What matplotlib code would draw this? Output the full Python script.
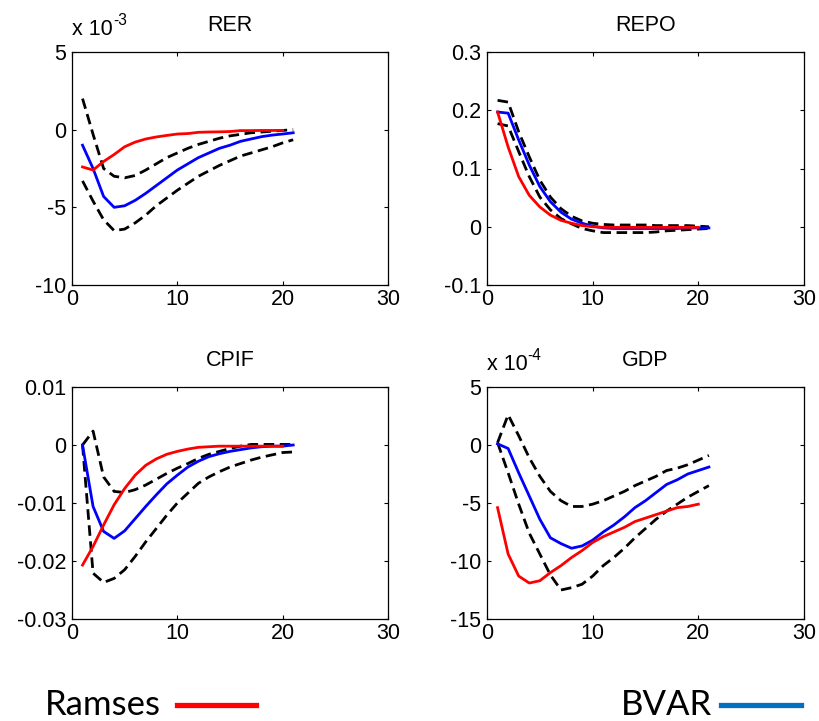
import matplotlib
matplotlib.use('Agg')
import matplotlib.pyplot as plt

plt.rcParams['font.family'] = ['Liberation Sans', 'DejaVu Sans']

# horizons
h_bvar = list(range(1, 22))
h_ramses = list(range(1, 21))

# RER (x 1e-3)
rer_up = [2.0, -0.3, -2.5, -3.0, -3.1, -2.95, -2.6, -2.2, -1.8, -1.5, -1.2, -0.95, -0.75, -0.55, -0.4, -0.3, -0.2, -0.15, -0.1, -0.05, 0.0]
rer_lo = [-3.3, -4.6, -5.8, -6.5, -6.4, -6.0, -5.5, -4.9, -4.4, -3.9, -3.45, -3.0, -2.65, -2.3, -2.0, -1.7, -1.5, -1.3, -1.1, -0.85, -0.65]
rer_bvar = [-1.0, -2.5, -4.3, -5.0, -4.9, -4.55, -4.1, -3.6, -3.1, -2.6, -2.2, -1.8, -1.5, -1.2, -1.0, -0.75, -0.6, -0.45, -0.35, -0.28, -0.2]
rer_ramses = [-2.4, -2.6, -2.05, -1.6, -1.1, -0.8, -0.6, -0.47, -0.37, -0.28, -0.25, -0.17, -0.15, -0.14, -0.12, -0.06, -0.06, -0.05, -0.05, -0.05]

# REPO
repo_up = [0.217, 0.214, 0.163, 0.12, 0.08, 0.051, 0.031, 0.018, 0.01, 0.006, 0.004, 0.003, 0.003, 0.003, 0.003, 0.002, 0.002, 0.002, 0.002, 0.001, 0.0]
repo_lo = [0.177, 0.173, 0.129, 0.086, 0.051, 0.029, 0.014, 0.005, -0.003, -0.007, -0.01, -0.01, -0.01, -0.01, -0.01, -0.009, -0.007, -0.006, -0.005, -0.004, -0.003]
repo_bvar = [0.197, 0.195, 0.149, 0.106, 0.069, 0.043, 0.025, 0.013, 0.006, 0.001, -0.002, -0.003, -0.003, -0.003, -0.003, -0.003, -0.003, -0.003, -0.002, -0.002, -0.002]
repo_ramses = [0.197, 0.137, 0.086, 0.054, 0.034, 0.02, 0.011, 0.006, 0.002, 0.0, -0.001, -0.001, -0.001, -0.001, -0.001, -0.001, -0.001, -0.001, -0.001, -0.001]

# CPIF
cpif_up = [0.0, 0.0024, -0.0055, -0.008, -0.0082, -0.0077, -0.0069, -0.0059, -0.0049, -0.004, -0.0032, -0.0023, -0.0016, -0.0011, -0.0006, -0.0002, 0.0001, 0.0001, 0.0001, 0.0001, 0.0001]
cpif_lo = [0.0, -0.0221, -0.0237, -0.023, -0.0215, -0.0192, -0.0167, -0.0144, -0.0121, -0.01, -0.0083, -0.0066, -0.0055, -0.0046, -0.0038, -0.0032, -0.0026, -0.0021, -0.0017, -0.0013, -0.0012]
cpif_bvar = [0.0, -0.0106, -0.0149, -0.0161, -0.0148, -0.0127, -0.0106, -0.0086, -0.0067, -0.0052, -0.0038, -0.0028, -0.002, -0.0015, -0.0011, -0.0008, -0.0005, -0.0003, -0.0002, -0.0002, 0.0]
cpif_ramses = [-0.0207, -0.0175, -0.0138, -0.0103, -0.0075, -0.0052, -0.0035, -0.0024, -0.0016, -0.0011, -0.0007, -0.0004, -0.0003, -0.0002, -0.0002, -0.0002, -0.0002, -0.0002, -0.0002, -0.0002]

# GDP (x 1e-4)
gdp_up = [0.2, 2.6, 0.8, -1.1, -2.7, -4.0, -4.8, -5.3, -5.3, -5.1, -4.8, -4.4, -4.0, -3.5, -3.1, -2.7, -2.2, -2.0, -1.7, -1.3, -0.9]
gdp_lo = [0.2, -2.4, -5.1, -7.6, -9.4, -11.2, -12.5, -12.3, -12.0, -11.3, -10.4, -9.7, -8.9, -8.0, -7.2, -6.4, -5.7, -5.1, -4.5, -4.0, -3.5]
gdp_bvar = [0.1, -0.3, -2.4, -4.4, -6.4, -8.0, -8.5, -8.9, -8.7, -8.2, -7.5, -6.9, -6.2, -5.4, -4.8, -4.1, -3.4, -3.0, -2.5, -2.2, -1.9]
gdp_ramses = [-5.4, -9.4, -11.3, -11.9, -11.7, -11.0, -10.4, -9.7, -9.1, -8.4, -7.9, -7.5, -7.1, -6.6, -6.3, -6.0, -5.7, -5.4, -5.3, -5.1]

panels = [
    ('RER', rer_up, rer_lo, rer_bvar, rer_ramses, (-10, 5), [-10, -5, 0, 5], ['-10', '-5', '0', '5'], '-3'),
    ('REPO', repo_up, repo_lo, repo_bvar, repo_ramses, (-0.1, 0.3), [-0.1, 0, 0.1, 0.2, 0.3], ['-0.1', '0', '0.1', '0.2', '0.3'], None),
    ('CPIF', cpif_up, cpif_lo, cpif_bvar, cpif_ramses, (-0.03, 0.01), [-0.03, -0.02, -0.01, 0, 0.01], ['-0.03', '-0.02', '-0.01', '0', '0.01'], None),
    ('GDP', gdp_up, gdp_lo, gdp_bvar, gdp_ramses, (-15, 5), [-15, -10, -5, 0, 5], ['-15', '-10', '-5', '0', '5'], '-4'),
]

W, H = 819, 721
fs = 15.5
fig = plt.figure(figsize=(W / 100, H / 100), dpi=100)
boxes = [(72, 52, 316, 233), (487, 52, 317, 233), (72, 387, 316, 232), (487, 387, 317, 232)]

for (title, up, lo, bv, rm, ylim, yt, ytl, expo), (l, t, w, h) in zip(panels, boxes):
    ax = fig.add_axes([l / W, 1 - (t + h) / H, w / W, h / H])
    ax.plot(h_bvar, up, color='black', lw=2, dashes=(3.8, 2))
    ax.plot(h_bvar, lo, color='black', lw=2, dashes=(3.8, 2))
    ax.plot(h_bvar, bv, color='blue', lw=2)
    ax.plot(h_ramses, rm, color='red', lw=2)
    ax.set_xlim(0, 30)
    ax.set_ylim(*ylim)
    ax.set_xticks([0, 10, 20, 30])
    ax.set_yticks(yt)
    ax.set_yticklabels(ytl)
    ax.tick_params(direction='in', top=True, right=True, length=3, width=0.8,
                   labelsize=fs, pad=4)
    ax.tick_params(axis='x', pad=3)
    for s in ax.spines.values():
        s.set_linewidth(0.9)
    ax.set_title(title, fontsize=fs, pad=15)
    if expo:
        base = ax.text(0.0, 1.05, 'x 10', transform=ax.transAxes,
                       fontsize=fs, ha='left', va='bottom')
        ax.annotate(expo, xy=(1, 0.6), xycoords=base, fontsize=fs * 0.72,
                    ha='left', va='bottom')

# legend row at the bottom
lf = ['Lato', 'DejaVu Sans']
fig.text(45 / W, 1 - 705 / H, 'Ramses', fontsize=25, family=lf, ha='left', va='center')
fig.add_artist(plt.Line2D([177 / W, 256 / W], [1 - 705 / H] * 2, color='red', lw=3.8))
fig.text(621 / W, 1 - 705 / H, 'BVAR', fontsize=25, family=lf, ha='left', va='center')
fig.add_artist(plt.Line2D([721 / W, 801 / W], [1 - 705 / H] * 2, color='#0070C0', lw=3.8))

fig.savefig('out.png', dpi=100)
